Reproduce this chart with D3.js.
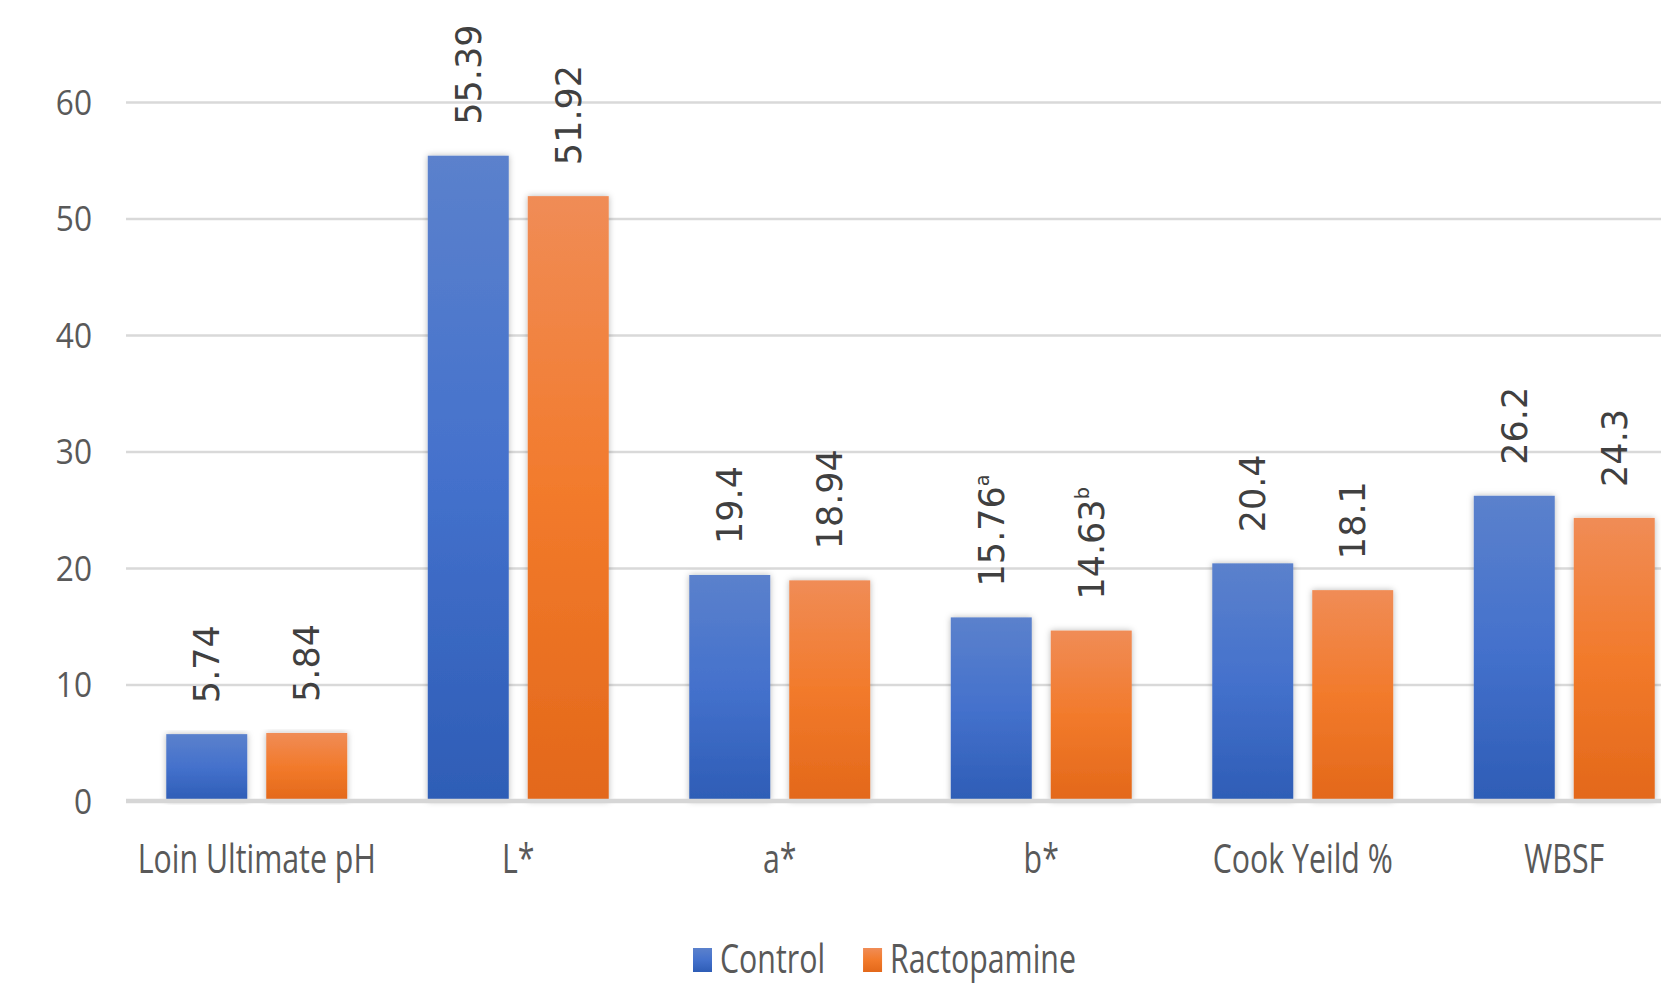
<!DOCTYPE html>
<html>
<head>
<meta charset="utf-8">
<script src="https://cdn.jsdelivr.net/npm/d3@7"></script>
<style>
  html, body { margin: 0; padding: 0; background: #ffffff; }
  svg { display: block; }
</style>
</head>
<body>
<svg id="chart" width="1661" height="987"></svg>
<script>
// ---- data ----
const categories = ["Loin Ultimate pH", "L*", "a*", "b*", "Cook Yeild %", "WBSF"];
const seriesNames = ["Control", "Ractopamine"];
const controlValues = [5.74, 55.39, 19.4, 15.76, 20.4, 26.2];
const ractopamineValues = [5.84, 51.92, 18.94, 14.63, 18.1, 24.3];
const controlSuperscripts = ["", "", "", "a", "", ""];
const ractopamineSuperscripts = ["", "", "", "b", "", ""];
const yTicks = [0, 10, 20, 30, 40, 50, 60];

// ---- layout ----
const W = 1661, H = 987;
const plotLeft = 126, plotRight = 1695, plotTop = 102, plotBottom = 801;
const svg = d3.select("#chart");

const defs = svg.append("defs");
const gradSpecs = [
  { id: "gradControl", stops: ["#5b81cc", "#4471cc", "#2e5db6"] },
  { id: "gradRacto", stops: ["#f08c56", "#f27a2b", "#e3681a"] }
];
gradSpecs.forEach(g => {
  const lg = defs.append("linearGradient").attr("id", g.id)
    .attr("x1", 0).attr("y1", 0).attr("x2", 0).attr("y2", 1);
  g.stops.forEach((c, i) => lg.append("stop")
    .attr("offset", (i / (g.stops.length - 1) * 100) + "%").attr("stop-color", c));
});
const filt = defs.append("filter").attr("id", "shadow")
  .attr("x", "-20%").attr("y", "-5%").attr("width", "140%").attr("height", "110%");
filt.append("feDropShadow").attr("dx", 0).attr("dy", 0).attr("stdDeviation", 3)
  .attr("flood-color", "#000").attr("flood-opacity", 0.28);

const seriesColors = ["url(#gradControl)", "url(#gradRacto)"];
const legendColors = ["#3a68c4", "#ee7a30"];

const x0 = d3.scaleBand().domain(categories).range([plotLeft, plotRight])
  .paddingInner(0.308).paddingOuter(0.154);
const x1 = d3.scaleBand().domain(seriesNames).range([0, x0.bandwidth()])
  .paddingInner(0.19).paddingOuter(0);
const y = d3.scaleLinear().domain([0, 60]).range([plotBottom, plotTop]);

// ---- y axis with gridlines ----
const tickScaleX = 0.93;
const tickPad = 34;
const yAxis = d3.axisLeft(y).tickValues(yTicks)
  .tickSize(-(W - plotLeft)).tickPadding(tickPad);
const gy = svg.append("g").attr("transform", `translate(${plotLeft},0)`).call(yAxis);
gy.select(".domain").remove();
gy.selectAll(".tick line")
  .attr("stroke", "#d9d9d9")
  .attr("stroke-width", 2.5)
  .attr("opacity", d => d === 0 ? 0 : 1);
gy.selectAll(".tick text")
  .attr("font-family", "'Open Sans', sans-serif")
  .attr("font-size", 34)
  .attr("fill", "#595959")
  .attr("x", -tickPad / tickScaleX)
  .attr("dy", "0.36em")
  .attr("transform", `scale(${tickScaleX},1)`);

// ---- bars ----
const rows = categories.map((c, i) => ({
  category: c,
  items: [
    { series: seriesNames[0], value: controlValues[i], sup: controlSuperscripts[i], color: seriesColors[0] },
    { series: seriesNames[1], value: ractopamineValues[i], sup: ractopamineSuperscripts[i], color: seriesColors[1] }
  ]
}));

const groups = svg.append("g").selectAll("g").data(rows).join("g")
  .attr("transform", d => `translate(${x0(d.category)},0)`);

groups.selectAll("rect").data(d => d.items).join("rect")
  .attr("x", d => x1(d.series))
  .attr("y", d => y(d.value))
  .attr("width", x1.bandwidth())
  .attr("height", d => y(0) - y(d.value))
  .attr("fill", d => d.color)
  .attr("filter", "url(#shadow)");

// value labels (rotated)
const labelGap = 31;
const vt = groups.selectAll("text.val").data(d => d.items).join("text")
  .attr("class", "val")
  .attr("transform", d => `translate(${x1(d.series) + x1.bandwidth() / 2},${y(d.value) - labelGap}) rotate(-90)`)
  .attr("dy", "0.36em")
  .attr("font-family", "'DejaVu Sans', sans-serif")
  .attr("font-size", 35)
  .attr("fill", "#404040")
  .attr("text-anchor", "start");
vt.append("tspan").text(d => String(d.value));
vt.filter(d => d.sup).append("tspan")
  .attr("font-size", "0.55em")
  .attr("dy", "-0.75em")
  .text(d => d.sup);

// baseline (0 line) on top
svg.append("line")
  .attr("x1", plotLeft).attr("x2", W)
  .attr("y1", y(0)).attr("y2", y(0))
  .attr("stroke", "#d6d6d6").attr("stroke-width", 4.5);

// ---- category labels ----
const catScaleX = 0.74;
svg.append("g").selectAll("text").data(categories).join("text")
  .attr("transform", d => `translate(${x0(d) + x0.bandwidth() / 2},873) scale(${catScaleX},1)`)
  .attr("text-anchor", "middle")
  .attr("font-family", "'Open Sans', sans-serif")
  .attr("font-size", 41)
  .attr("fill", "#595959")
  .text(d => d);

// ---- legend ----
const legend = svg.append("g");
let lx = 693;
seriesNames.forEach((name, i) => {
  legend.append("rect")
    .attr("x", lx).attr("y", 948).attr("width", 19).attr("height", 24)
    .attr("fill", seriesColors[i]);
  const t = legend.append("text")
    .attr("transform", `translate(${lx + 27},973) scale(${catScaleX},1)`)
    .attr("font-family", "'Open Sans', sans-serif")
    .attr("font-size", 41)
    .attr("fill", "#595959")
    .text(name);
  const w = t.node().getComputedTextLength() * catScaleX;
  lx = lx + 27 + w + 38;
});
</script>
</body>
</html>
